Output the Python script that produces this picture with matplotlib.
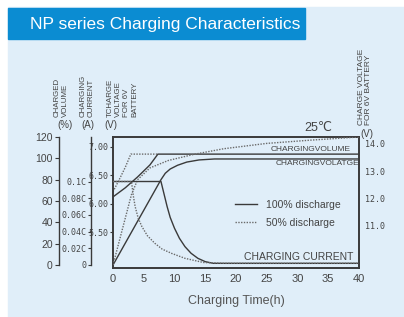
import matplotlib.pyplot as plt
from matplotlib.patches import Rectangle

# ----------------------------------------------------
# Data (time in hours)
# ----------------------------------------------------

# charge voltage, 6V battery (V)
hours_v100 = [0, 2, 4, 6, 7.3, 40]
volt_v100 = [6.12, 6.28, 6.47, 6.68, 6.87, 6.87]
hours_v50 = [0, 1, 2, 2.9, 7.3]
volt_v50 = [6.21, 6.42, 6.64, 6.87, 6.87]

# charged volume (%)
hours_q100 = [0, 7.8, 8.5, 9.3, 10.5, 12, 14, 16.5, 40]
vol_q100 = [0, 80, 86, 90, 93.5, 96.5, 98.5, 99.4, 99.4]
hours_q50 = [0, 3.0, 4, 6, 9, 13.2, 18, 25, 32, 40]
vol_q50 = [0, 66, 80, 91, 98, 103.8, 109, 114, 117, 120]

# charging current (C)
hours_c100 = [0, 7.8, 8.3, 8.8, 9.3, 10.0, 10.8, 11.7, 12.7, 13.8, 15.0, 16.3, 40]
amp_c100 = [0.100, 0.100, 0.085, 0.070, 0.057, 0.044, 0.032, 0.022, 0.014,
            0.008, 0.004, 0.002, 0.002]
hours_c50 = [0, 3.0, 3.3, 3.6, 4.1, 4.7, 5.6, 6.8, 8.0, 9.5, 11.7, 14.7, 18, 40]
amp_c50 = [0.100, 0.100, 0.083, 0.070, 0.056, 0.046, 0.035, 0.026, 0.019,
           0.014, 0.008, 0.003, 0.002, 0.002]

# tick values
x_ticks = [0, 5, 10, 15, 20, 25, 30, 35, 40]
vol_ticks = [0, 20, 40, 60, 80, 100, 120]
amp_ticks = [0, 0.02, 0.04, 0.06, 0.08, 0.10]
amp_labels = ["0", "0.02C", "0.04C", "0.06C", "0.08C", "0.1C"]
volt6_ticks = [5.5, 6.0, 6.5, 7.0]
volt12_ticks = [11.0, 12.0, 13.0, 14.0]

# ----------------------------------------------------
# Style
# ----------------------------------------------------
SANS = ["Liberation Sans", "DejaVu Sans"]
MONO = "DejaVu Sans Mono"
DARK = "#3a3a3a"
TXT = "#444444"
DOT = "#6a6a6a"
plt.rcParams["font.family"] = SANS

W, H = 404, 317
fig = plt.figure(figsize=(W / 100, H / 100), dpi=100)
fig.patch.set_facecolor("white")

# light blue panel and the title banner
fig.add_artist(Rectangle((8 / W, 0), 1, (H - 7) / H, transform=fig.transFigure,
                         color="#e0eef9", zorder=-10))
fig.add_artist(Rectangle((8 / W, (H - 38.5) / H), 297 / W, 30.5 / H,
                         transform=fig.transFigure, color="#0b8cd2", zorder=-9))
fig.text(30 / W, (H - 24) / H, "NP series Charging Characteristics",
         color="white", fontsize=12.5, va="center", ha="left")

# main box: left axis is the 6V voltage
ax = fig.add_axes([113 / W, 49 / H, 246 / W, 131 / H])
ax.set_facecolor("none")
ax.set_xlim(0, 40)
ax.set_ylim(4.874, 7.170)
for s in ax.spines.values():
    s.set_linewidth(1.4)
    s.set_color(DARK)

ax.set_xticks(x_ticks)
ax.set_xticklabels([str(v) for v in x_ticks])
ax.tick_params(axis="x", length=0, pad=4, labelsize=8, labelcolor=TXT)
ax.set_xlabel("Charging Time(h)", fontsize=9, color="#555555", labelpad=8)

ax.set_yticks(volt6_ticks)
ax.set_yticklabels(["%.2f" % v for v in volt6_ticks], family=MONO)
ax.tick_params(axis="y", length=2, width=0.8, pad=1, labelsize=6,
               labelcolor=TXT, color=DARK)

# charged volume axis
ax_q = ax.twinx()
ax_q.set_ylim(-2.81, 120)
for k in ["right", "top", "bottom"]:
    ax_q.spines[k].set_visible(False)
ax_q.spines["left"].set_visible(True)
ax_q.spines["left"].set_position(("axes", (59 - 113) / 246))
ax_q.spines["left"].set_bounds(0, 120)
ax_q.spines["left"].set_linewidth(1.0)
ax_q.spines["left"].set_color(DARK)
ax_q.yaxis.tick_left()
ax_q.set_yticks(vol_ticks)
ax_q.set_yticklabels([str(v) for v in vol_ticks])
ax_q.tick_params(axis="y", length=3, width=0.8, pad=1.5, labelsize=7.5,
                 labelcolor=TXT, color=DARK)

# charging current axis
ax_c = ax.twinx()
ax_c.set_ylim(-0.0036, 0.1533)
for k in ["right", "top", "bottom"]:
    ax_c.spines[k].set_visible(False)
ax_c.spines["left"].set_visible(True)
ax_c.spines["left"].set_position(("axes", (90.5 - 113) / 246))
ax_c.spines["left"].set_bounds(0, 0.1533)
ax_c.spines["left"].set_linewidth(1.0)
ax_c.spines["left"].set_color(DARK)
ax_c.yaxis.tick_left()
ax_c.set_yticks(amp_ticks)
ax_c.set_yticklabels(amp_labels, family=MONO)
ax_c.tick_params(axis="y", length=2, width=0.8, pad=1, labelsize=6,
                 labelcolor=TXT, color=DARK)

# right axis: 12V scale
ax_r = ax.twinx()
ax_r.set_ylim(9.463, 14.256)
for s in ax_r.spines.values():
    s.set_visible(False)
ax_r.set_yticks(volt12_ticks)
ax_r.set_yticklabels(["%.1f" % v for v in volt12_ticks], family=MONO)
ax_r.tick_params(axis="y", length=0, pad=4, labelsize=6, labelcolor=TXT)

# ----------------------------------------------------
# Curves
# ----------------------------------------------------
solid = dict(color=DARK, lw=1.0, solid_joinstyle="round")
dotted = dict(color=DOT, lw=1.0, linestyle=(0, (1, 1)))

l100, = ax.plot(hours_v100, volt_v100, **solid)
l50, = ax.plot(hours_v50, volt_v50, **dotted)
ax_q.plot(hours_q100, vol_q100, **solid)
ax_q.plot(hours_q50, vol_q50, **dotted)
ax_c.plot(hours_c100, amp_c100, **solid)
ax_c.plot(hours_c50, amp_c50, **dotted)

ax_r.legend([l100, l50], ["100% discharge", "50% discharge"],
            loc="upper left", bbox_to_anchor=(0.476, 0.56), frameon=False,
            fontsize=7.5, handlelength=2.1, handletextpad=0.8,
            labelspacing=0.75, borderpad=0, labelcolor=TXT)

# in-plot labels
ax_r.text(0.9675, 0.906, "CHARGINGVOLUME", transform=ax.transAxes,
          fontsize=6, color=TXT, ha="right", va="center")
ax_r.text(1.0, 0.796, "CHARGINGVOLATGE", transform=ax.transAxes,
          fontsize=6, color=TXT, ha="right", va="center")
ax_r.text(0.977, 0.086, "CHARGING CURRENT", transform=ax.transAxes,
          fontsize=7.5, color=TXT, ha="right", va="center")
ax_r.text(0.833, 1.066, "25℃", transform=ax.transAxes,
          fontsize=9, color=TXT, ha="center", va="center")

# axis titles
fig.text(61 / W, (H - 117) / H, "CHARGED\nVOLUME", rotation=90, fontsize=5.7,
         color=TXT, ha="center", va="bottom", multialignment="left",
         linespacing=1.25)
fig.text(87 / W, (H - 117) / H, "CHARGING\nCURRENT", rotation=90, fontsize=5.7,
         color=TXT, ha="center", va="bottom", multialignment="left",
         linespacing=1.2)
fig.text(122.5 / W, (H - 117) / H, "TCHARGE\nVOLTAGE\nFOR 6V\nBATTERY",
         rotation=90, fontsize=5.7, color=TXT, ha="center", va="bottom",
         multialignment="left", linespacing=1.25)
fig.text(64.5 / W, (H - 125) / H, "(%)", fontsize=7, color=TXT,
         ha="center", va="center")
fig.text(88 / W, (H - 125) / H, "(A)", fontsize=7, color=TXT,
         ha="center", va="center")
fig.text(110.5 / W, (H - 125) / H, "(V)", fontsize=7, color=TXT,
         ha="center", va="center")

fig.text(365 / W, (H - 125) / H, "CHARGE VOLTAGE\nFOR 6V BATTERY",
         rotation=90, fontsize=6, color=TXT, ha="center", va="bottom",
         multialignment="left", linespacing=1.1)
fig.text(366.5 / W, (H - 133.5) / H, "(V)", fontsize=7, color=TXT,
         ha="center", va="center")

fig.savefig("out.png", dpi=100, facecolor=fig.get_facecolor())
